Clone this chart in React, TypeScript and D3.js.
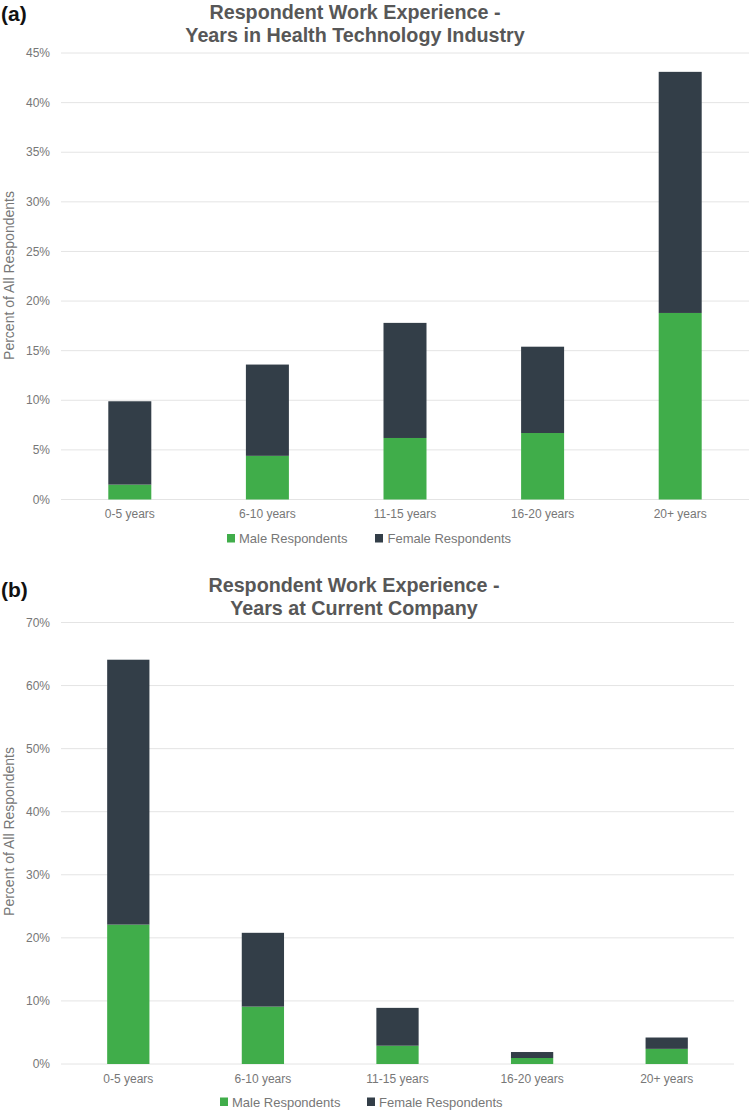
import React from "react";
import * as d3 from "d3";

const categories = ["0-5 years", "6-10 years", "11-15 years", "16-20 years", "20+ years"];
const seriesNames = ["Male Respondents", "Female Respondents"];

// Chart (a): Years in Health Technology Industry (percent of all respondents)
const industryMale = [1.5, 4.4, 6.2, 6.7, 18.8];
const industryFemale = [8.4, 9.2, 11.6, 8.7, 24.3];
const industryTicks = [0, 5, 10, 15, 20, 25, 30, 35, 40, 45];

// Chart (b): Years at Current Company
const companyMale = [22.1, 9.1, 2.9, 0.95, 2.4];
const companyFemale = [42.0, 11.7, 6.0, 0.95, 1.8];
const companyTicks = [0, 10, 20, 30, 40, 50, 60, 70];

const GREEN = "#40ad4a";
const DARK = "#333e48";
const GRID = "#e4e4e4";
const TICK_COLOR = "#777777";
const TITLE_COLOR = "#575757";
const FONT = "Liberation Sans";

type PanelProps = {
  tag: string;
  titleLines: string[];
  male: number[];
  female: number[];
  ticks: number[];
  yMax: number;
  yTop: number;
  yBottom: number;
  xLeft: number;
  xRight: number;
  padInner: number;
  tagBaseline: number;
  titleBaselines: number[];
  titleCx: number;
  xLabelBaseline: number;
  yTitleCy: number;
  legendSquareX: number[];
  legendTextX: number[];
  legendBaseline: number;
};

function Panel(p: PanelProps) {
  const x = d3
    .scaleBand<string>()
    .domain(categories)
    .range([p.xLeft, p.xRight])
    .paddingInner(p.padInner)
    .paddingOuter(p.padInner / 2);
  const y = d3.scaleLinear().domain([0, p.yMax]).range([p.yBottom, p.yTop]);

  const rows = categories.map((c, i) => ({ cat: c, male: p.male[i], female: p.female[i] }));
  const stack = d3.stack<any>().keys(["male", "female"])(rows);
  const colors = [GREEN, DARK];

  return (
    <g style={{ fontFamily: FONT }}>
      <text x={1} y={p.tagBaseline} fontSize={21} fontWeight="bold" fill="#111">
        {p.tag}
      </text>
      <g transform={`translate(${p.titleCx},0) scale(0.94,1)`}>
        {p.titleLines.map((t, i) => (
          <text key={i} x={0} y={p.titleBaselines[i]} textAnchor="middle" fontSize={21} fontWeight="bold" fill={TITLE_COLOR}>
            {t}
          </text>
        ))}
      </g>
      {p.ticks.map((t) => (
        <g key={t}>
          <line x1={p.xLeft} x2={p.xRight} y1={y(t)} y2={y(t)} stroke={GRID} strokeWidth={1} />
          <text x={50} y={y(t)} dy="0.35em" textAnchor="end" fontSize={12} fill={TICK_COLOR}>
            {t}%
          </text>
        </g>
      ))}
      <text
        transform={`translate(13.5,${p.yTitleCy}) rotate(-90)`}
        textAnchor="middle"
        fontSize={14}
        fill={TICK_COLOR}
      >
        Percent of All Respondents
      </text>
      {stack.map((layer, li) => (
        <g key={li} fill={colors[li]}>
          {layer.map((d: any, i: number) => (
            <rect
              key={i}
              x={x(d.data.cat)}
              width={x.bandwidth()}
              y={y(d[1])}
              height={y(d[0]) - y(d[1])}
            />
          ))}
        </g>
      ))}
      {categories.map((c) => (
        <text key={c} x={(x(c) as number) + x.bandwidth() / 2} y={p.xLabelBaseline} textAnchor="middle" fontSize={12} fill={TICK_COLOR}>
          {c}
        </text>
      ))}
      {seriesNames.map((s, i) => (
        <g key={s}>
          <rect x={p.legendSquareX[i]} y={p.legendBaseline - 9} width={8} height={8.5} fill={colors[i]} />
          <text x={p.legendTextX[i]} y={p.legendBaseline} fontSize={13} fill={TICK_COLOR}>
            {s}
          </text>
        </g>
      ))}
    </g>
  );
}

export default function App() {
  return (
    <svg width={750} height={1111} style={{ position: "absolute", left: 0, top: 0, background: "#fff" }}>
      <Panel
        tag="(a)"
        titleLines={["Respondent Work Experience -", "Years in Health Technology Industry"]}
        male={industryMale}
        female={industryFemale}
        ticks={industryTicks}
        yMax={45}
        yTop={53}
        yBottom={499.5}
        xLeft={61}
        xRight={749}
        padInner={0.6875}
        tagBaseline={21}
        titleBaselines={[18.5, 42]}
        titleCx={355}
        xLabelBaseline={517.5}
        yTitleCy={275.5}
        legendSquareX={[227, 375]}
        legendTextX={[239, 387.5]}
        legendBaseline={543}
      />
      <Panel
        tag="(b)"
        titleLines={["Respondent Work Experience -", "Years at Current Company"]}
        male={companyMale}
        female={companyFemale}
        ticks={companyTicks}
        yMax={70}
        yTop={622.5}
        yBottom={1064}
        xLeft={61}
        xRight={734}
        padInner={0.686}
        tagBaseline={597}
        titleBaselines={[592, 615]}
        titleCx={354}
        xLabelBaseline={1082.5}
        yTitleCy={831.5}
        legendSquareX={[220, 367]}
        legendTextX={[232, 379]}
        legendBaseline={1106.5}
      />
    </svg>
  );
}
